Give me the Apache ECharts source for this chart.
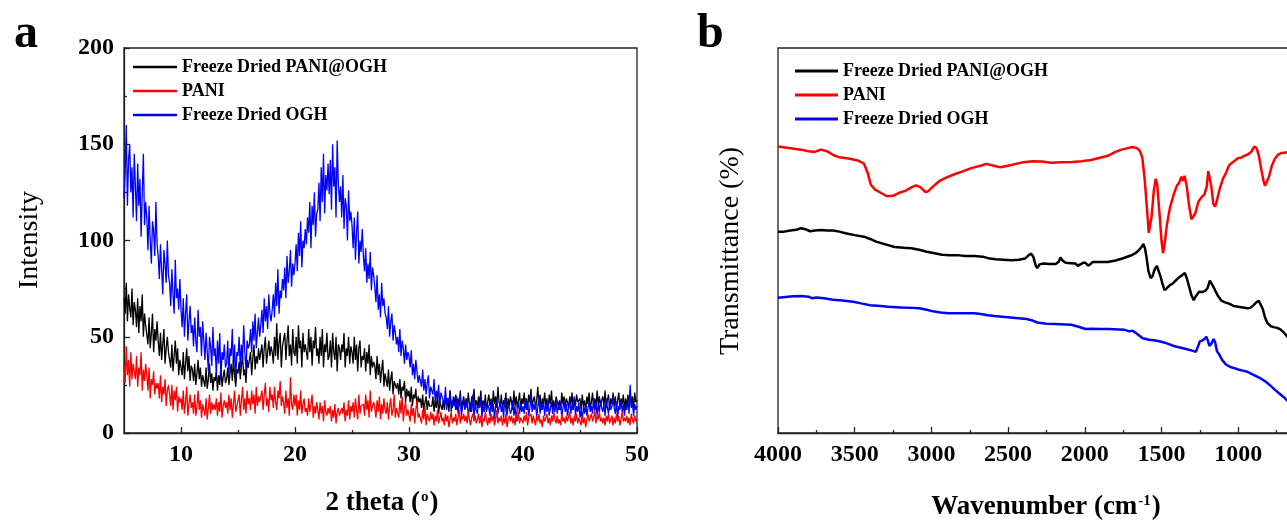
<!DOCTYPE html>
<html><head><meta charset="utf-8">
<script src="https://cdn.jsdelivr.net/npm/echarts@6/dist/echarts.min.js"></script>
<style>html,body{margin:0;padding:0;background:#fff}#c{width:1287px;height:523px}</style>
</head><body><div id="c"></div>
<script>
const seriesNames = ['Freeze Dried PANI@OGH', 'PANI', 'Freeze Dried OGH'];
const seriesColors = ['#000000', '#ff0000', '#0000ff'];

// Panel a: XRD, 2 theta from 5 to 50 in steps of 0.1 (one row = one degree)
const xrdStart = 5, xrdStep = 0.1;
const xrdTicks = [10, 20, 30, 40, 50];
const xrdMinorTicks = [15, 25, 35, 45];
const xrdBlack = [
70,62,78,58,72,65,60,75,56,68, 64,55,70,52,66,58,72,50,62,56,
55,46,60,44,52,62,42,54,48,58, 48,40,52,38,46,54,36,44,50,42,
42,34,46,32,40,48,36,44,30,38, 38,30,42,28,36,44,32,40,27,35,
33,27,36,25,31,38,28,34,24,30, 30,24,34,23,28,36,26,31,22,29,
27,32,22,30,25,35,24,29,33,26, 28,34,25,31,36,27,38,30,24,33,
31,37,28,35,40,30,33,26,38,34, 35,42,30,39,46,33,40,36,44,38,
38,46,34,44,50,36,42,48,40,45, 42,36,50,40,57,38,47,52,34,45,
44,52,38,48,56,40,46,35,54,42, 40,50,36,56,44,48,34,52,42,46,
46,38,54,42,50,35,48,44,55,40, 44,36,50,40,54,34,46,42,52,38,
40,48,34,52,42,38,50,32,46,44, 38,46,42,52,34,44,40,50,36,45,
42,36,50,38,46,32,44,48,34,40, 38,44,32,42,36,46,30,40,34,37,
35,28,40,30,36,26,33,38,24,31, 30,24,33,22,28,32,20,27,25,23,
26,20,28,18,24,22,27,16,23,19, 22,16,24,14,20,18,23,13,19,16,
18,13,20,11,16,19,12,17,14,15, 14,19,11,17,13,21,10,16,15,12,
17,12,20,14,18,11,22,15,13,19, 15,20,12,18,14,22,11,16,19,13,
18,13,21,15,11,19,16,23,14,17, 13,19,15,22,12,17,14,20,11,16,
20,14,18,12,22,15,19,13,24,16, 14,20,12,17,15,21,11,18,14,19,
16,12,22,14,19,13,17,21,12,18, 15,21,13,18,12,20,16,23,14,17,
19,13,17,24,14,20,12,18,15,21, 14,18,12,20,15,22,13,17,11,19,
20,14,17,12,21,15,19,13,18,16, 13,19,15,21,12,18,14,20,16,15,
18,12,20,14,17,11,19,15,21,13, 16,21,13,18,12,22,15,19,14,17,
19,14,22,13,17,20,12,18,15,21, 14,19,12,17,21,13,18,15,20,12,
18,13,20,15,22,14,19,12,21,16,
17];
const xrdRed = [
35,26,45,30,38,24,42,28,36,32, 28,40,24,34,30,42,22,33,27,36,
30,22,34,18,28,25,32,20,26,23, 26,18,30,16,24,20,28,14,22,25,
20,14,25,12,22,17,24,11,19,16, 18,12,22,10,16,24,9,15,20,13,
16,10,20,9,14,22,12,17,8,15, 14,9,18,7,13,20,10,16,12,15,
12,18,9,16,11,21,8,14,17,13, 16,10,20,12,18,8,15,22,11,14,
13,20,9,17,24,12,18,10,22,15, 18,12,22,15,20,10,24,14,19,16,
15,22,12,20,26,14,18,11,24,17, 20,13,24,16,12,22,18,27,14,19,
16,10,22,13,18,9,29,15,12,20, 14,20,9,17,12,22,10,15,18,11,
13,9,18,11,15,20,8,14,10,16, 12,7,16,10,14,6,17,11,9,13,
10,14,6,12,8,15,5,11,13,9, 8,13,10,16,6,12,9,17,7,14,
11,16,8,18,12,7,20,10,14,13, 15,9,20,12,17,8,22,11,14,16,
13,8,17,11,19,7,15,10,18,12, 10,16,7,14,18,9,12,20,8,13,
14,8,17,10,19,6,13,16,9,12, 11,6,15,9,13,5,12,17,8,10,
9,5,12,7,14,4,10,8,6,11, 7,10,4,9,6,12,5,8,11,6,
8,4,10,6,9,3,7,11,5,8, 6,10,4,8,12,5,9,7,10,6,
9,5,11,7,4,8,10,6,9,5, 7,10,5,9,3,8,6,11,7,4,
8,5,10,6,9,4,7,12,5,8, 6,9,4,8,5,10,3,7,9,6,
9,5,8,4,10,6,11,5,8,7, 5,9,6,11,4,8,7,10,5,9,
8,4,9,6,10,5,7,3,9,6, 6,10,5,8,4,9,6,11,7,5,
9,5,7,4,10,6,8,5,9,6, 7,11,5,8,4,9,6,10,5,8,
6,4,9,5,8,3,7,10,6,5, 10,6,8,12,5,9,7,11,6,8,
5,8,4,9,6,10,5,7,9,4, 8,5,10,6,9,4,7,11,6,8,
6,9,5,8,4,10,7,5,9,6,
7];
const xrdBlue = [
122,135,160,118,142,150,125,138,112,145, 128,110,140,118,132,102,125,145,108,120,
112,95,118,100,88,110,105,92,120,98, 92,80,98,85,72,95,88,78,100,82,
78,66,85,72,62,90,70,75,64,80, 64,55,70,50,62,72,48,58,66,52,
56,45,60,48,42,64,50,55,40,58, 48,38,52,42,32,50,45,35,55,40,
44,30,48,36,52,28,42,38,46,34, 36,48,30,44,40,54,34,46,28,42,
40,50,34,46,38,56,42,32,48,44, 46,54,42,58,48,62,44,52,60,50,
56,64,52,70,58,66,54,72,62,58, 64,72,60,78,66,85,62,74,70,80,
74,86,70,92,78,84,95,76,88,82, 88,98,84,104,92,110,86,100,96,106,
98,112,104,120,96,118,108,125,102,114, 116,130,110,138,120,145,114,134,126,140,
124,142,116,150,128,138,112,152,130,120, 128,112,134,106,122,118,100,126,110,115,
108,96,112,90,104,115,88,100,94,106, 92,84,96,78,88,80,94,74,86,82,
76,68,82,64,72,60,78,66,70,62, 60,54,66,50,58,62,48,56,52,46,
50,42,54,40,48,44,36,46,38,42, 40,34,43,30,36,28,38,32,26,30,
30,24,33,22,28,20,26,30,18,24, 24,20,28,16,22,18,25,14,21,19,
20,15,24,12,18,16,22,11,17,14, 16,12,19,10,15,20,9,14,17,12,
14,18,9,13,16,11,20,8,15,12, 10,16,13,19,8,14,11,17,12,15,
13,9,17,11,15,7,14,18,10,13, 16,11,14,8,18,12,9,15,13,10,
12,17,9,14,6,13,16,10,15,11, 14,10,18,12,16,9,13,20,11,15,
12,16,8,14,19,10,15,12,17,9, 15,11,17,9,13,16,10,14,12,18,
10,14,12,16,8,13,17,11,15,9, 13,17,10,15,12,19,9,14,11,16,
8,12,6,14,10,15,9,13,16,11, 14,10,18,12,16,9,15,11,17,13,
11,15,9,18,13,10,16,12,14,19, 13,10,16,8,14,12,17,11,15,9,
14,12,18,10,25,13,16,9,15,12,
14];

// Panel b: FTIR [wavenumber, transmittance (arbitrary, offset)]
const irBlack = [[4000,52.3],[3960,52.3],[3920,52.6],[3880,52.8],[3850,53.2],[3820,52.9],[3790,52.4],[3760,52.6],[3720,52.7],[3680,52.6],[3640,52.6],[3600,52.3],[3560,51.9],[3500,51.4],[3440,51.0],[3400,50.4],[3360,49.7],[3300,49.0],[3240,48.3],[3180,48.1],[3130,48.0],[3080,47.6],[3030,47.1],[2980,46.7],[2930,46.3],[2880,46.2],[2830,46.2],[2780,46.0],[2720,46.0],[2665,45.8],[2620,45.3],[2580,45.1],[2530,45.0],[2480,44.9],[2430,45.0],[2390,45.3],[2365,46.2],[2350,46.6],[2335,45.7],[2320,43.5],[2310,42.8],[2295,43.8],[2270,44.0],[2230,43.9],[2190,43.9],[2170,44.5],[2158,45.6],[2145,44.8],[2125,44.2],[2090,44.1],[2060,44.0],[2045,43.4],[2030,43.8],[2010,44.2],[1995,44.2],[1980,43.5],[1965,43.8],[1950,44.4],[1900,44.4],[1850,44.4],[1800,44.8],[1750,45.4],[1700,46.1],[1670,46.7],[1645,47.6],[1630,48.3],[1618,49.1],[1608,48.0],[1598,45.8],[1585,42.0],[1570,40.2],[1558,40.8],[1545,42.5],[1530,43.4],[1518,43.0],[1505,40.5],[1492,38.5],[1480,37.1],[1465,37.6],[1445,38.4],[1424,38.9],[1400,39.9],[1380,40.6],[1365,41.0],[1355,40.8],[1348,41.6],[1335,40.2],[1320,38.0],[1305,35.8],[1290,34.5],[1275,35.6],[1255,36.7],[1235,36.6],[1215,36.9],[1200,37.6],[1185,39.6],[1176,39.7],[1165,38.2],[1150,37.0],[1130,35.5],[1110,34.4],[1090,34.0],[1060,33.6],[1030,33.0],[1000,32.8],[970,32.6],[940,32.4],[920,32.5],[900,33.2],[880,34.0],[866,34.3],[855,33.5],[840,32.2],[825,30.0],[810,28.6],[790,27.8],[770,27.5],[745,27.3],[725,26.9],[705,26.2],[685,25.3],[650,23.8]];
const irRed = [[4000,74.4],[3930,74.0],[3850,73.6],[3800,73.2],[3760,73.0],[3720,73.6],[3680,73.2],[3640,72.2],[3600,71.6],[3540,71.3],[3480,70.8],[3440,70.0],[3415,67.5],[3395,64.5],[3370,63.3],[3330,62.4],[3290,61.5],[3250,61.6],[3210,62.4],[3170,62.9],[3130,63.8],[3100,64.3],[3070,63.8],[3040,62.6],[3020,62.8],[2990,64.0],[2950,65.4],[2900,66.4],[2850,67.2],[2800,67.9],[2740,68.8],[2680,69.4],[2640,69.9],[2600,69.5],[2550,69.0],[2500,69.4],[2450,69.9],[2400,70.3],[2340,70.6],[2280,70.5],[2220,70.2],[2150,70.3],[2080,70.4],[2020,70.6],[1960,70.9],[1900,71.5],[1850,72.0],[1800,73.0],[1760,73.6],[1720,74.0],[1690,74.3],[1660,74.0],[1640,73.2],[1625,71.5],[1610,66.0],[1595,58.5],[1583,52.0],[1575,51.5],[1565,56.0],[1550,63.0],[1538,66.0],[1528,64.5],[1515,58.0],[1500,50.0],[1490,46.7],[1480,49.0],[1465,54.0],[1445,58.5],[1420,62.0],[1400,64.2],[1385,65.0],[1370,66.6],[1360,65.5],[1350,66.8],[1335,64.0],[1320,59.0],[1305,55.5],[1295,55.0],[1280,57.0],[1260,60.0],[1240,61.2],[1220,62.0],[1205,64.0],[1195,68.0],[1185,68.3],[1175,64.0],[1162,59.5],[1150,58.8],[1138,60.5],[1120,63.5],[1100,66.0],[1080,67.5],[1060,69.5],[1040,70.2],[1020,70.8],[1000,71.4],[980,71.5],[960,72.0],[940,72.3],[915,73.0],[895,74.4],[880,74.0],[865,72.0],[850,68.5],[835,65.5],[825,64.2],[815,64.0],[800,66.5],[780,69.5],[760,71.3],[740,72.3],[720,72.7],[700,72.8],[680,72.9],[650,73.0]];
const irBlue = [[4000,35.1],[3950,35.3],[3900,35.5],[3850,35.6],[3800,35.4],[3780,35.0],[3750,35.2],[3700,35.0],[3640,34.6],[3580,34.4],[3510,34.1],[3450,33.6],[3400,33.2],[3330,33.0],[3280,32.8],[3200,32.6],[3120,32.5],[3080,32.4],[3030,32.0],[2990,31.6],[2940,31.3],[2890,31.1],[2800,31.1],[2720,31.1],[2690,31.0],[2630,30.6],[2590,30.4],[2520,30.1],[2450,29.9],[2380,29.6],[2340,29.2],[2310,28.7],[2250,28.4],[2190,28.3],[2130,28.2],[2090,28.1],[2040,27.6],[1995,27.0],[1960,27.1],[1900,27.0],[1840,27.0],[1780,26.9],[1740,26.8],[1710,26.4],[1690,26.6],[1660,25.8],[1623,24.6],[1580,24.2],[1540,24.0],[1500,23.7],[1460,23.2],[1420,22.6],[1380,22.2],[1340,21.8],[1300,21.4],[1276,21.1],[1262,22.5],[1250,23.8],[1235,24.0],[1220,24.4],[1208,25.0],[1198,24.0],[1188,22.6],[1175,23.2],[1160,24.4],[1150,23.5],[1138,21.2],[1125,20.5],[1105,19.0],[1080,17.8],[1055,17.2],[1030,16.9],[1000,16.5],[970,16.2],[940,15.9],[910,15.3],[880,14.7],[850,14.1],[820,13.3],[790,12.3],[760,11.2],[730,10.2],[700,9.2],[685,8.6],[650,7.4]];

const FONT = 'Liberation Serif';
function xrdPairs(arr) { return arr.map((v, i) => [Math.round((xrdStart + i * xrdStep) * 100) / 100, v]); }

const axisLineStyle = { color: '#222', width: 1.3 };
const tickLabel = { fontFamily: FONT, fontWeight: 'bold', fontSize: 24, color: '#000', formatter: v => String(v) };
const legendText = { fontFamily: FONT, fontWeight: 'bold', fontSize: 18, lineHeight: 18, color: '#000' };

const chart = echarts.init(document.getElementById('c'), null, { renderer: 'canvas' });
chart.setOption({
  animation: false,
  backgroundColor: '#fff',
  grid: [
    { left: 124, top: 48, width: 513, height: 385, show: true, borderColor: '#222', borderWidth: 1.3, containLabel: false, outerBoundsMode: 'none' },
    { left: 778, top: 48, width: 613.6, height: 385, show: true, borderColor: '#222', borderWidth: 1.3, containLabel: false, outerBoundsMode: 'none' }
  ],
  xAxis: [
    { gridIndex: 0, type: 'value', min: 5, max: 50, position: 'bottom',
      axisLine: { show: true, lineStyle: axisLineStyle },
      axisTick: { show: true, inside: true, length: 6, customValues: xrdTicks, lineStyle: axisLineStyle },
      axisLabel: { show: true, customValues: xrdTicks, margin: 10, ...tickLabel },
      splitLine: { show: false } },
    { gridIndex: 0, type: 'value', min: 5, max: 50, position: 'bottom',
      axisLine: { show: false },
      axisTick: { show: true, inside: true, length: 3, customValues: xrdMinorTicks, lineStyle: axisLineStyle },
      axisLabel: { show: false }, splitLine: { show: false } },
    { gridIndex: 1, type: 'value', min: 0, max: 4000, interval: 500, inverse: true, position: 'bottom',
      axisLine: { show: true, lineStyle: axisLineStyle },
      axisTick: { show: true, inside: true, length: 6, lineStyle: axisLineStyle },
      minorTick: { show: true, splitNumber: 2, length: 3, lineStyle: axisLineStyle },
      axisLabel: { show: true, margin: 10, hideOverlap: false, ...tickLabel },
      splitLine: { show: false } }
  ],
  yAxis: [
    { gridIndex: 0, type: 'value', min: 0, max: 200, interval: 50,
      axisLine: { show: true, lineStyle: axisLineStyle },
      axisTick: { show: true, inside: true, length: 6, lineStyle: axisLineStyle },
      minorTick: { show: true, splitNumber: 2, length: 3, lineStyle: axisLineStyle },
      axisLabel: { show: true, margin: 10, ...tickLabel },
      splitLine: { show: false } },
    { gridIndex: 1, type: 'value', min: 0, max: 100,
      axisLine: { show: true, lineStyle: { color: '#777', width: 1.3 } },
      axisTick: { show: false }, axisLabel: { show: false }, splitLine: { show: false } }
  ],
  legend: [
    { data: seriesNames, orient: 'vertical', left: 128, top: 53, icon: 'rect', itemWidth: 44, itemHeight: 2.5, itemGap: 6,
      textStyle: legendText, selectedMode: false },
    { data: seriesNames, orient: 'vertical', left: 790, top: 57, icon: 'rect', itemWidth: 43, itemHeight: 3, itemGap: 6,
      textStyle: legendText, selectedMode: false }
  ],
  series: [
    { name: seriesNames[0], type: 'line', xAxisIndex: 0, yAxisIndex: 0, data: xrdPairs(xrdBlack), showSymbol: false, symbol: 'none', lineStyle: { color: seriesColors[0], width: 1.3 }, itemStyle: { color: seriesColors[0] } },
    { name: seriesNames[2], type: 'line', xAxisIndex: 0, yAxisIndex: 0, data: xrdPairs(xrdBlue), showSymbol: false, symbol: 'none', lineStyle: { color: seriesColors[2], width: 1.3 }, itemStyle: { color: seriesColors[2] } },
    { name: seriesNames[1], type: 'line', xAxisIndex: 0, yAxisIndex: 0, data: xrdPairs(xrdRed), showSymbol: false, symbol: 'none', lineStyle: { color: seriesColors[1], width: 1.3 }, itemStyle: { color: seriesColors[1] } },
    { name: seriesNames[0], type: 'line', xAxisIndex: 2, yAxisIndex: 1, data: irBlack, showSymbol: false, symbol: 'none', lineStyle: { color: seriesColors[0], width: 2.5 }, itemStyle: { color: seriesColors[0] } },
    { name: seriesNames[1], type: 'line', xAxisIndex: 2, yAxisIndex: 1, data: irRed, showSymbol: false, symbol: 'none', lineStyle: { color: seriesColors[1], width: 2.5 }, itemStyle: { color: seriesColors[1] } },
    { name: seriesNames[2], type: 'line', xAxisIndex: 2, yAxisIndex: 1, data: irBlue, showSymbol: false, symbol: 'none', lineStyle: { color: seriesColors[2], width: 2.5 }, itemStyle: { color: seriesColors[2] } }
  ],
  graphic: [
    { type: 'text', x: 14, y: 35, style: { text: 'a', font: 'bold 48px "Liberation Serif"', fill: '#000', align: 'left', verticalAlign: 'middle' } },
    { type: 'text', x: 697, y: 35, style: { text: 'b', font: 'bold 48px "Liberation Serif"', fill: '#000', align: 'left', verticalAlign: 'middle' } },
    { type: 'text', x: 30, y: 240, rotation: Math.PI / 2, style: { text: 'Intensity', font: '28px "Liberation Serif"', fill: '#000', align: 'center', verticalAlign: 'middle' } },
    { type: 'text', x: 731, y: 251, rotation: Math.PI / 2, style: { text: 'Transmittance (%)', font: '28px "Liberation Serif"', fill: '#000', align: 'center', verticalAlign: 'middle' } },
    { type: 'text', x: 382, y: 503, style: { text: '2 theta ({s|o})', font: 'bold 27px "Liberation Serif"', fill: '#000', align: 'center', verticalAlign: 'middle',
        rich: { s: { font: 'bold 15px "Liberation Serif"', fill: '#000', verticalAlign: 'top', padding: [0, 1, 12, 1] } } } },
    { type: 'text', x: 1046, y: 507, style: { text: 'Wavenumber (cm{s|-1})', font: 'bold 27px "Liberation Serif"', fill: '#000', align: 'center', verticalAlign: 'middle',
        rich: { s: { font: 'bold 15px "Liberation Serif"', fill: '#000', verticalAlign: 'top', padding: [0, 1, 12, 1] } } } }
  ]
});
</script>
</body></html>
